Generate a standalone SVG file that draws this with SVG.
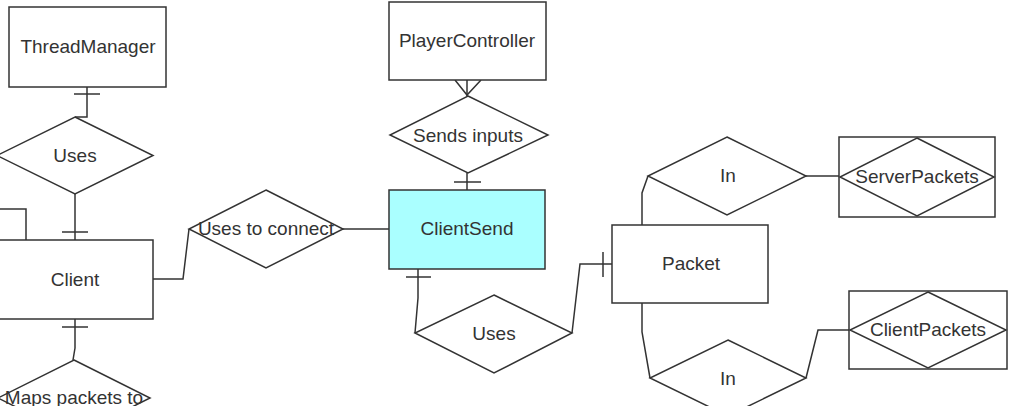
<svg xmlns="http://www.w3.org/2000/svg" width="1032" height="406" viewBox="0 0 1032 406">
<style>
.box{fill:#ffffff;stroke:#333333;stroke-width:1.5}
.hl{fill:#aaffff}
.dia{fill:#ffffff;stroke:#333333;stroke-width:1.5}
.wk{fill:none;stroke:#333333;stroke-width:1.5}
.lbl{font-family:"Liberation Sans",Arial,sans-serif;font-size:19px;fill:#333333;text-anchor:middle}
.ln{fill:none;stroke:#333333;stroke-width:1.5}
</style>
<rect width="1032" height="406" fill="#ffffff"/>
<g id="connectors">
<path class="ln" d="M87,87 V117 H75"/>
<path class="ln" d="M74,94 H100"/>
<path class="ln" d="M75,194 V240"/>
<path class="ln" d="M62,232 H88"/>
<path class="ln" d="M0,209 H26 V240"/>
<path class="ln" d="M153,279 H183 L189,229"/>
<path class="ln" d="M343,229 H389"/>
<path class="ln" d="M75,319 V348 L73,360"/>
<path class="ln" d="M62,327 H88"/>
<path class="ln" d="M467,80 V96"/>
<path class="ln" d="M455,80 L467,95 L481,80"/>
<path class="ln" d="M467,173 V190"/>
<path class="ln" d="M454,182 H481"/>
<path class="ln" d="M418,269 V298 L415,333"/>
<path class="ln" d="M406,277 H431"/>
<path class="ln" d="M572,333 L580,264 H612"/>
<path class="ln" d="M603,252 V277"/>
<path class="ln" d="M642,225 V193 L648,176"/>
<path class="ln" d="M806,176 H840"/>
<path class="ln" d="M642,303 V332 L650,378"/>
<path class="ln" d="M806,378 L818,330 H850"/>
</g>
<g id="ThreadManager">
<rect class="box" x="9" y="7" width="157" height="80"/>
<text class="lbl" x="88" y="52.5">ThreadManager</text>
</g>
<g id="Uses1">
<polygon class="dia" points="75,117 153,155.5 75,194 -3,155.5"/>
<text class="lbl" x="75" y="161.5">Uses</text>
</g>
<g id="Client">
<rect class="box" x="-4" y="240" width="157" height="79"/>
<text class="lbl" x="75" y="285.5">Client</text>
</g>
<g id="UsesToConnect">
<polygon class="dia" points="266,190 343,229 266,268 189,229"/>
<text class="lbl" x="266" y="235">Uses to connect</text>
</g>
<g id="MapsPacketsTo">
<polygon class="dia" points="74,360 150,398 74,436 -2,398"/>
<text class="lbl" x="74" y="404">Maps packets to</text>
</g>
<g id="PlayerController">
<rect class="box" x="389" y="2" width="157" height="78"/>
<text class="lbl" x="467" y="46.5">PlayerController</text>
</g>
<g id="SendsInputs">
<polygon class="dia" points="468,96 548,135 468,173 390,135"/>
<text class="lbl" x="468" y="141.5">Sends inputs</text>
</g>
<g id="ClientSend">
<rect class="box hl" x="389" y="190" width="156" height="79"/>
<text class="lbl" x="467" y="235">ClientSend</text>
</g>
<g id="Uses2">
<polygon class="dia" points="494,295 572,333 494,373 415,333"/>
<text class="lbl" x="494" y="340">Uses</text>
</g>
<g id="Packet">
<rect class="box" x="612" y="225" width="156" height="78"/>
<text class="lbl" x="691" y="270">Packet</text>
</g>
<g id="In1">
<polygon class="dia" points="727,137 806,176 727,215 648,176"/>
<text class="lbl" x="728" y="182">In</text>
</g>
<g id="ServerPackets">
<rect class="box" x="839" y="137" width="156" height="80"/>
<polygon class="wk" points="917,138 994,177 917,216 840,177"/>
<text class="lbl" x="917" y="182.5">ServerPackets</text>
</g>
<g id="In2">
<polygon class="dia" points="728,340 806,378 728,416 650,378"/>
<text class="lbl" x="728" y="385">In</text>
</g>
<g id="ClientPackets">
<rect class="box" x="849" y="291" width="158" height="78"/>
<polygon class="wk" points="928,292 1006,330 928,368 850,330"/>
<text class="lbl" x="928" y="336">ClientPackets</text>
</g>
</svg>
